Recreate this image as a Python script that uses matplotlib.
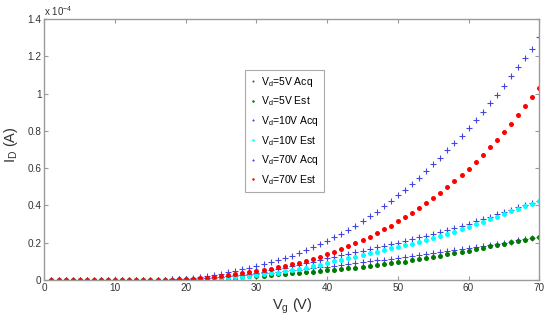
import numpy as np
import matplotlib.pyplot as plt

plt.rcParams['font.family'] = ['Liberation Sans', 'DejaVu Sans']
plt.rcParams['mathtext.default'] = 'regular'

vg = np.arange(1, 71)

# drain current in units of 1e-4 A (Vg = 1..70)
zeros15 = [0.0] * 15
acq_5 = zeros15 + [0.0, 0.001, 0.002, 0.003, 0.004, 0.006, 0.008, 0.010, 0.013, 0.016,
                   0.019, 0.022, 0.026, 0.029, 0.033, 0.037, 0.040, 0.044, 0.048, 0.052,
                   0.056, 0.060, 0.064, 0.068, 0.072, 0.077, 0.081, 0.086, 0.091, 0.095,
                   0.100, 0.105, 0.109, 0.114, 0.118, 0.123, 0.128, 0.133, 0.138, 0.143,
                   0.148, 0.153, 0.159, 0.164, 0.169, 0.175, 0.181, 0.187, 0.193, 0.199,
                   0.206, 0.214, 0.220, 0.226, 0.232]
est_5 = zeros15 + [0.0, 0.0, 0.0, 0.0, 0.001, 0.002, 0.003, 0.004, 0.006, 0.008,
                   0.011, 0.013, 0.016, 0.019, 0.022, 0.024, 0.027, 0.030, 0.033, 0.036,
                   0.039, 0.042, 0.045, 0.048, 0.052, 0.055, 0.059, 0.063, 0.067, 0.071,
                   0.075, 0.079, 0.084, 0.089, 0.094, 0.099, 0.105, 0.111, 0.117, 0.123,
                   0.130, 0.137, 0.144, 0.151, 0.158, 0.166, 0.173, 0.180, 0.188, 0.195,
                   0.202, 0.210, 0.217, 0.224, 0.231]
acq_10 = zeros15 + [0.001, 0.002, 0.003, 0.004, 0.005, 0.007, 0.009, 0.011, 0.014, 0.017,
                    0.021, 0.025, 0.029, 0.034, 0.039, 0.045, 0.052, 0.059, 0.066, 0.074,
                    0.082, 0.090, 0.098, 0.107, 0.116, 0.125, 0.133, 0.141, 0.150, 0.158,
                    0.167, 0.175, 0.183, 0.192, 0.200, 0.209, 0.218, 0.228, 0.238, 0.248,
                    0.259, 0.270, 0.281, 0.292, 0.302, 0.315, 0.327, 0.340, 0.354, 0.366,
                    0.378, 0.390, 0.400, 0.413, 0.425]
est_10 = zeros15 + [0.0, 0.0, 0.001, 0.001, 0.002, 0.003, 0.004, 0.005, 0.007, 0.009,
                    0.012, 0.015, 0.018, 0.022, 0.026, 0.030, 0.035, 0.040, 0.046, 0.052,
                    0.059, 0.066, 0.074, 0.083, 0.092, 0.100, 0.109, 0.117, 0.125, 0.134,
                    0.143, 0.152, 0.160, 0.169, 0.178, 0.186, 0.194, 0.203, 0.213, 0.224,
                    0.236, 0.247, 0.259, 0.272, 0.285, 0.298, 0.311, 0.325, 0.339, 0.354,
                    0.368, 0.382, 0.395, 0.409, 0.425]
acq_70 = zeros15 + [0.001, 0.002, 0.003, 0.005, 0.008, 0.011, 0.015, 0.020, 0.027, 0.034,
                    0.042, 0.050, 0.058, 0.066, 0.075, 0.084, 0.094, 0.105, 0.117, 0.130,
                    0.144, 0.159, 0.175, 0.192, 0.210, 0.229, 0.249, 0.270, 0.292, 0.316,
                    0.341, 0.367, 0.395, 0.424, 0.454, 0.485, 0.516, 0.549, 0.584, 0.620,
                    0.656, 0.695, 0.733, 0.773, 0.814, 0.857, 0.903, 0.949, 0.994, 1.043,
                    1.092, 1.142, 1.191, 1.241, 1.303]
est_70 = zeros15 + [0.001, 0.001, 0.002, 0.003, 0.004, 0.006, 0.009, 0.012, 0.016, 0.020,
                    0.025, 0.030, 0.036, 0.042, 0.048, 0.054, 0.061, 0.068, 0.076, 0.084,
                    0.093, 0.103, 0.114, 0.125, 0.138, 0.151, 0.165, 0.180, 0.197, 0.214,
                    0.232, 0.251, 0.271, 0.292, 0.314, 0.337, 0.361, 0.386, 0.412, 0.440,
                    0.469, 0.499, 0.530, 0.563, 0.597, 0.634, 0.672, 0.713, 0.753, 0.796,
                    0.839, 0.884, 0.932, 0.980, 1.030]

labels = ['V$_d$=5V Acq', 'V$_d$=5V Est', 'V$_d$=10V Acq',
          'V$_d$=10V Est', 'V$_d$=70V Acq', 'V$_d$=70V Est']

fig = plt.figure(figsize=(5.5, 3.2), dpi=100)
ax = fig.add_axes([0.0807, 0.125, 0.8998, 0.8156])

blue = '#4646dc'
acq_kw = dict(ls='none', marker='+', ms=4, mew=0.8, color=blue)
est_kw = dict(ls='none', marker='o', ms=3.6, mew=0)

s = 1e-4
ax.plot(vg, np.array(acq_5) * s, label=labels[0], **acq_kw)
ax.plot(vg, np.array(est_5) * s, label=labels[1], color='#007a00', **est_kw)
ax.plot(vg, np.array(acq_10) * s, label=labels[2], **acq_kw)
ax.plot(vg, np.array(est_10) * s, label=labels[3], color='#00ffff', **est_kw)
ax.plot(vg, np.array(acq_70) * s, label=labels[4], **acq_kw)
ax.plot(vg, np.array(est_70) * s, label=labels[5], color='#ff0000', **est_kw)

ax.set_xlim(0, 70)
ax.set_ylim(0, 1.4e-4)
ax.set_xticks(np.arange(0, 71, 10))
yt = np.arange(0, 1.41, 0.2)
ax.set_yticks(yt * s)
ax.set_yticklabels(['0', '0.2', '0.4', '0.6', '0.8', '1', '1.2', '1.4'])

grey = '#9a9a9a'
for sp in ax.spines.values():
    sp.set_color(grey)
    sp.set_linewidth(1.0)
ax.tick_params(direction='in', top=True, right=True, length=3, width=0.8,
               color=grey, labelsize=7.2, labelcolor='#333333', pad=2)

ax.text(0.0, 1.005, 'x 10$^{-4}$', transform=ax.transAxes, fontsize=7,
        color='#333333', ha='left', va='bottom')

ax.set_xlabel('V$_g$ (V)', fontsize=10.5, color='#333333', labelpad=3)
ax.set_ylabel('I$_D$ (A)', fontsize=10.5, color='#333333')
ax.yaxis.set_label_coords(-0.05, 0.52)

leg = ax.legend(loc='upper left', bbox_to_anchor=(0.394, 0.826), fontsize=7.5,
                markerscale=0.5, handlelength=0.7, handletextpad=0.4,
                labelspacing=0.55, borderpad=0.5, fancybox=False, framealpha=1)
leg.get_frame().set_edgecolor('#aaaaaa')
leg.get_frame().set_linewidth(0.8)

fig.savefig('out.png', dpi=100)
